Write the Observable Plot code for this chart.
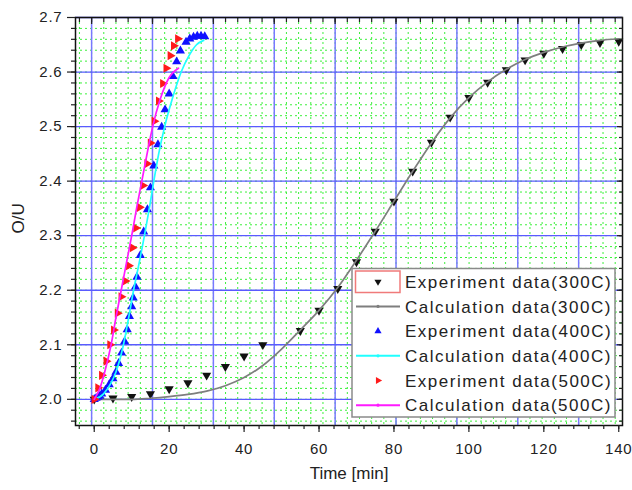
<!DOCTYPE html>
<html><head><meta charset="utf-8">
<script src="https://cdn.jsdelivr.net/npm/d3@7"></script>
<script src="https://cdn.jsdelivr.net/npm/@observablehq/plot@0.6"></script>
<style>
body{margin:0;background:#fff;}
#chart{width:632px;height:490px;}
svg text{font-family:"Liberation Sans",Arial,sans-serif;}
</style></head><body><div id="chart"></div>
<script>
// ---- data ----
const exp300Time = [0,5,10,15,20,25,30,35,40,45,55,60,65,70,75,80,85,90,95,100,105,110,115,120,125,130,135,140];
const exp300OU   = [2.000,2.002,2.005,2.010,2.019,2.030,2.044,2.060,2.079,2.100,2.126,2.163,2.203,2.252,2.308,2.363,2.418,2.471,2.517,2.553,2.581,2.604,2.622,2.634,2.643,2.650,2.654,2.656];

const calc300Time = [0,10,15,20,25,30,35,40,45,50,55,60,65,70,75,80,85,90,95,100,105,110,115,120,125,130,135,140];
const calc300OU   = [2.000,2.000,2.002,2.005,2.009,2.015,2.025,2.040,2.062,2.092,2.127,2.163,2.205,2.255,2.308,2.363,2.418,2.470,2.516,2.553,2.582,2.605,2.623,2.636,2.646,2.653,2.658,2.661];

const exp400Time = [0,0.5,1,1.5,2,3,4,5,5.8,6.5,7.3,8.1,8.8,9.4,10,10.4,11,11.4,12.3,13.2,14.2,15,15.9,17,18,18.9,20,21,22,23,24.5,25.5,26.5,27.5,28.5,29.5];
const exp400OU   = [2.000,2.002,2.004,2.006,2.010,2.017,2.027,2.038,2.050,2.066,2.085,2.106,2.128,2.152,2.170,2.186,2.206,2.224,2.264,2.307,2.348,2.388,2.428,2.467,2.499,2.531,2.560,2.592,2.619,2.639,2.655,2.661,2.664,2.666,2.666,2.665];

const calc400Time = [0,2.5,4.5,5.8,7.8,9.2,10.5,12,13.4,14.7,15.9,17.2,18.8,20.8,23.2,25.3,27.3,29.2];
const calc400OU   = [2.000,2.010,2.030,2.050,2.100,2.150,2.200,2.250,2.300,2.350,2.400,2.450,2.500,2.550,2.600,2.630,2.650,2.658];

const exp500Time = [0,1,2,3.2,4.2,5.2,6.2,7.2,8.3,9.2,10.2,11.1,12.1,13,14.1,15,16,17.2,18.3,19.2,20.3,21.2,22.3];
const exp500OU   = [2.000,2.021,2.044,2.070,2.100,2.127,2.158,2.188,2.217,2.245,2.278,2.314,2.352,2.392,2.432,2.470,2.510,2.547,2.579,2.607,2.630,2.648,2.661];

const calc500Time = [0,1.5,2.8,4.5,5.8,7.2,8.6,10,11.3,12.7,14.1,15.6,17.6,20,22.5];
const calc500OU   = [2.000,2.020,2.050,2.100,2.150,2.200,2.250,2.300,2.350,2.400,2.450,2.500,2.550,2.590,2.607];

const xTicks = [0,20,40,60,80,100,120,140];
const yTicks = [2.0,2.1,2.2,2.3,2.4,2.5,2.6,2.7];
const topGrid = [-0.7,15.55,31.8,48.05,64.3,80.55,96.8,113.05,129.3];
const legendLabels = ["Experiment data(300C)","Calculation data(300C)","Experiment data(400C)","Calculation data(400C)","Experiment data(500C)","Calculation data(500C)"];
const seriesColors = ["#111111","#7e7e7e","#1010ff","#20ffff","#ff1a1a","#ff1aff"];

// ---- build tables ----
const toRows = (T, V) => T.map((t, i) => ({t, v: V[i]}));
const e300 = toRows(exp300Time, exp300OU), c300 = toRows(calc300Time, calc300OU);
const e400 = toRows(exp400Time, exp400OU), c400 = toRows(calc400Time, calc400OU);
const e500 = toRows(exp500Time, exp500OU), c500 = toRows(calc500Time, calc500OU);

const minorX = d3.range(topGrid[0] - 3.25, 141, 3.25);
const minorY = d3.range(1.96, 2.699, 0.02);
const xMinor = d3.range(-4, 141, 4);

const plot = Plot.plot({
  width: 632, height: 490,
  marginLeft: 75, marginRight: 10, marginTop: 17, marginBottom: 65,
  x: {domain: [-5, 141]},
  y: {domain: [1.952, 2.7]},
  style: {background: "white", fontFamily: "Liberation Sans, Arial, sans-serif", color: "#222"},
  marks: [
    Plot.ruleX(minorX, {stroke: "#3cf03c", strokeDasharray: "2,3", strokeWidth: 1}),
    Plot.ruleY(minorY, {stroke: "#3cf03c", strokeDasharray: "2,3", strokeWidth: 1}),
    Plot.ruleX(topGrid, {stroke: "#7878ff", strokeWidth: 1.5}),
    Plot.ruleY(yTicks, {stroke: "#5a5aff", strokeWidth: 1.3}),
    Plot.dot(e300, {x: "t", y: "v", symbol: "triangle", rotate: 180, r: 3.4, fill: seriesColors[0]}),
    Plot.line(c300, {x: "t", y: "v", stroke: seriesColors[1], strokeWidth: 1.7, curve: "monotone-x"}),
    Plot.dot(e400, {x: "t", y: "v", symbol: "triangle", r: 3.4, fill: seriesColors[2]}),
    Plot.line(c400, {x: "t", y: "v", stroke: seriesColors[3], strokeWidth: 1.7, curve: "monotone-x"}),
    Plot.dot(e500, {x: "t", y: "v", symbol: "triangle", rotate: 90, r: 3.4, fill: seriesColors[4]}),
    Plot.line(c500, {x: "t", y: "v", stroke: seriesColors[5], strokeWidth: 1.7, curve: "monotone-x"}),
    Plot.frame({stroke: "#111", strokeWidth: 1.5}),
    Plot.axisX({ticks: xMinor, tickSize: 4, text: null, label: null, strokeWidth: 1.2}),
    Plot.axisX({ticks: xTicks, tickSize: 7, tickPadding: 11, fontSize: 15, label: null, strokeWidth: 1.2}),
    Plot.axisX({anchor: "top", ticks: minorX, tickSize: 4, dy: 4, text: null, label: null, strokeWidth: 1.2}),
    Plot.axisX({anchor: "top", ticks: topGrid, tickSize: 6, dy: 6, text: null, label: null, strokeWidth: 1.2}),
    Plot.axisY({ticks: minorY, tickSize: 4, text: null, label: null, strokeWidth: 1.2}),
    Plot.axisY({ticks: yTicks, tickSize: 8, tickPadding: 5, tickFormat: d3.format(".1f"), fontSize: 15, label: null, strokeWidth: 1.2}),
    Plot.axisY({anchor: "right", ticks: minorY, tickSize: 4, dx: -4, text: null, label: null, strokeWidth: 1.2}),
    Plot.axisY({anchor: "right", ticks: yTicks, tickSize: 6, dx: -6, text: null, label: null, strokeWidth: 1.2}),
    Plot.text(["Time [min]"], {frameAnchor: "bottom", dy: 53, fontSize: 17, fill: "#222", ariaLabel: "xlabel"}),
    Plot.text(["O/U"], {frameAnchor: "left", dx: -57, dy: 12, rotate: -90, fontSize: 17, fill: "#222", ariaLabel: "ylabel"})
  ]
});
document.getElementById("chart").appendChild(plot);

const svg = d3.select(plot);
svg.selectAll('g[aria-label="x-axis tick label"] text, g[aria-label="y-axis tick label"] text').attr("letter-spacing", "0.8px");
svg.selectAll('g[aria-label="xlabel"] text, g[aria-label="ylabel"] text').attr("letter-spacing", "1px");

// ---- legend ----
const lg = svg.append("g").attr("aria-label", "legend").attr("text-anchor", "start");
lg.append("rect").attr("x", 352).attr("y", 268.5).attr("width", 263).attr("height", 148.5)
  .attr("fill", "white").attr("stroke", "#8a8a8a").attr("stroke-width", 1.5);
lg.append("rect").attr("x", 355.5).attr("y", 271).attr("width", 44.5).attr("height", 21.5)
  .attr("fill", "none").attr("stroke", "#f07a7a").attr("stroke-width", 1.5);
const rowY = i => 281.7 + i * 24.7;
const sym = d3.symbol(d3.symbolTriangle).size(22);
legendLabels.forEach((label, i) => {
  const y = rowY(i), c = seriesColors[i];
  if (i % 2 === 0) {
    const rot = i === 0 ? 180 : i === 2 ? 0 : 90;
    lg.append("path").attr("d", sym()).attr("fill", c)
      .attr("transform", `translate(378,${y}) rotate(${rot})`);
  } else {
    lg.append("line").attr("x1", 356).attr("x2", 400).attr("y1", y).attr("y2", y)
      .attr("stroke", c).attr("stroke-width", 2);
    lg.append("circle").attr("cx", 378).attr("cy", y).attr("r", 1.6).attr("fill", c);
  }
  lg.append("text").attr("x", 405).attr("y", y).attr("dy", "0.36em").attr("text-anchor", "start")
    .attr("font-size", 17).attr("letter-spacing", "1.5px").attr("fill", "#222").text(label);
});
</script>
</body></html>
